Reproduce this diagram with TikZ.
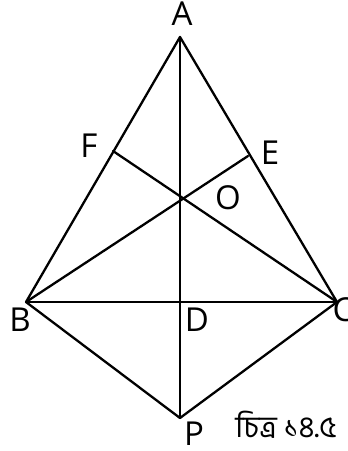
\documentclass[tikz,border=0pt]{standalone}
\usepackage{fontspec}
\setmainfont{Open Sans}
\newfontfamily\bnfont[Script=Bengali]{Hind Siliguri}
\begin{document}
\begin{tikzpicture}[x=1pt,y=-1pt,
  seg/.style={line width=2.3pt, line cap=round, line join=round},
  lbl/.style={font=\fontsize{33}{36}\selectfont, inner sep=0pt}]
\useasboundingbox (0,0) rectangle (348,451);
\coordinate (A) at (180,37);
\coordinate (B) at (26,302);
\coordinate (C) at (337,302);
\coordinate (D) at (180,302);
\coordinate (P) at (180,418);
\coordinate (F) at (113,151);
\coordinate (E) at (248,156);
\coordinate (O) at (180,197);
\draw[seg] (A) -- (B) -- (P) -- (C) -- cycle;
\draw[seg] (B) -- (C);
\draw[seg] (A) -- (P);
\draw[seg] (B) -- (E);
\draw[seg] (C) -- (F);
\node[lbl] (lA) at (182,14) {A};
\node[lbl] (lF) at (89,146) {F};
\node[lbl] (lE) at (270,153) {E};
\node[lbl] (lO) at (228,198) {O};
\node[lbl] (lB) at (20,320) {B};
\node[lbl] (lD) at (197,320) {D};
\node[lbl] (lC) at (343,310) {C};
\node[lbl] (lP) at (194,434) {P};
\node[inner sep=0pt, font=\bnfont\fontsize{30}{33}\selectfont] (cap) at (286,425) {চিত্র ১৪.৫};
\end{tikzpicture}
\end{document}
